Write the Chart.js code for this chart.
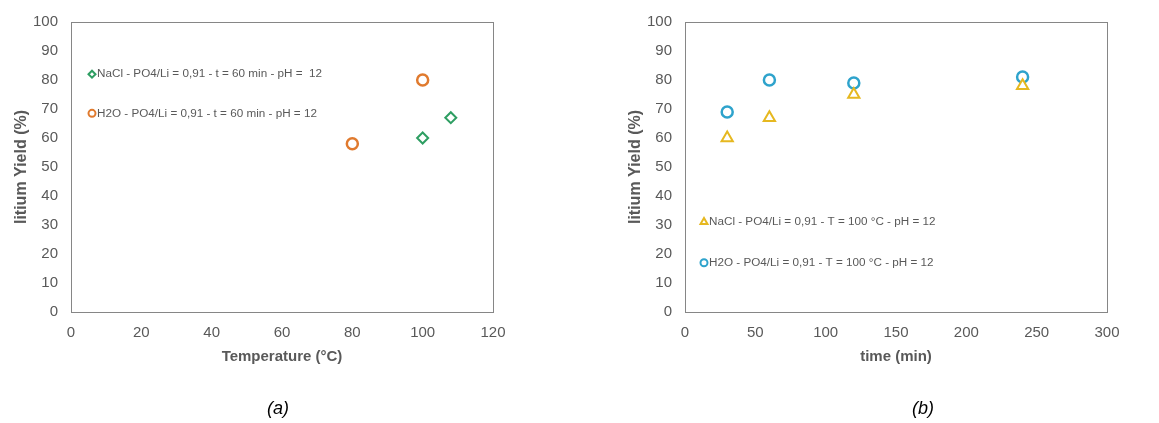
<!DOCTYPE html>
<html>
<head>
<meta charset="utf-8">
<script src="https://cdn.jsdelivr.net/npm/chart.js@4"></script>
<style>
  body { margin: 0; background: #fff; width: 1159px; height: 423px; position: relative; overflow: hidden; font-family: "Liberation Sans", Arial, sans-serif; }
  .box { position: absolute; top: 0; height: 423px; }
  #boxA { left: 0; width: 560px; }
  #boxB { left: 614px; width: 545px; }
  .cap { position: absolute; top: 398px; font-style: italic; font-size: 18px; color: #000; transform: translateX(-50%); }
</style>
</head>
<body>
<div class="box" id="boxA"><canvas id="chartA"></canvas></div>
<div class="box" id="boxB"><canvas id="chartB"></canvas></div>
<div class="cap" style="left:278px">(a)</div>
<div class="cap" style="left:923px">(b)</div>
<script>
// (a) temperature
const tempNaCl = [100, 108];
const yieldTempNaCl = [60, 67];
const tempH2O = [80, 100];
const yieldTempH2O = [58, 80];
const labelsA = ['NaCl - PO4/Li = 0,91 - t = 60 min - pH =  12', 'H2O - PO4/Li = 0,91 - t = 60 min - pH = 12'];

// (b) time
const timeNaCl = [30, 60, 120, 240];
const yieldTimeNaCl = [60, 67, 75, 78];
const timeH2O = [30, 60, 120, 240];
const yieldTimeH2O = [69, 80, 79, 81];
const labelsB = ['NaCl - PO4/Li = 0,91 - T = 100 °C - pH = 12', 'H2O - PO4/Li = 0,91 - T = 100 °C - pH = 12'];

const GREEN = '#2E9E62', ORANGE = '#E07A2E', GOLD = '#E6B820', BLUE = '#2EA3CC';
const TXT = '#595959';
const FONT = '"Liberation Sans", Arial, sans-serif';

function toPoints(xs, ys) {
    return xs.map((x, i) => ({ x: x, y: ys[i] }));
}

// frame round the plot area
const frame = {
    id: 'frame',
    afterDraw(chart) {
        const a = chart.chartArea, c = chart.ctx;
        c.save();
        c.strokeStyle = '#868686';
        c.lineWidth = 1;
        c.strokeRect(Math.round(a.left) + 0.5, Math.round(a.top) + 0.5, Math.round(a.right - a.left), Math.round(a.bottom - a.top));
        c.restore();
    }
};

// legend drawn inside the plot, at a y value of the axis
const innerLegend = {
    id: 'innerLegend',
    afterDatasetsDraw(chart, args, opts) {
        const c = chart.ctx, ys = chart.scales.y;
        c.save();
        chart.data.datasets.forEach((ds, i) => {
            const px = chart.chartArea.left + opts.offsetX;
            const py = ys.getPixelForValue(opts.yValues[i]);
            const style = { pointStyle: ds.pointStyle, radius: ds.pointStyle === 'triangle' ? 4 : 3.5, borderWidth: 2 };
            c.strokeStyle = ds.borderColor;
            c.lineWidth = 2;
            c.fillStyle = '#fff';
            Chart.helpers.drawPoint(c, style, px, py);
            c.fillStyle = TXT;
            c.font = '11.7px ' + FONT;
            c.textBaseline = 'middle';
            c.textAlign = 'left';
            c.fillText(ds.label, px + 5, py);
        });
        c.restore();
    }
};

function makeChart(id, datasets, xMax, xStep, xTitle, legendY) {
    return new Chart(document.getElementById(id), {
        type: 'scatter',
        data: { datasets: datasets },
        options: {
            responsive: true,
            maintainAspectRatio: false,
            animation: false,
            layout: { padding: { left: 8, right: id === 'chartA' ? 67 : 52, top: 20, bottom: 55 } },
            scales: {
                x: {
                    min: 0, max: xMax,
                    grid: { display: false, drawTicks: false },
                    border: { display: false },
                    ticks: { stepSize: xStep, padding: 12, color: TXT, font: { size: 15, family: FONT } },
                    title: { display: true, text: xTitle, color: TXT, font: { size: 15, weight: 'bold', family: FONT, lineHeight: 1 }, padding: { top: -5, bottom: 4 } }
                },
                y: {
                    min: 0, max: 100,
                    grid: { display: false, drawTicks: false },
                    border: { display: false },
                    ticks: { stepSize: 10, padding: 13, color: TXT, font: { size: 15, family: FONT } },
                    title: { display: true, text: 'litium Yield (%)', color: TXT, font: { size: 16, weight: 'bold', family: FONT }, padding: { top: 4, bottom: 4 } },
                    afterFit(scale) { scale.width = 63; }
                }
            },
            plugins: {
                legend: { display: false },
                tooltip: { enabled: false },
                innerLegend: { offsetX: id === 'chartA' ? 21 : 19, yValues: legendY }
            }
        },
        plugins: [frame, innerLegend]
    });
}

makeChart('chartA', [
    { label: labelsA[0], data: toPoints(tempNaCl, yieldTempNaCl), pointStyle: 'rectRot', pointRadius: 5.5, pointBorderWidth: 2, borderColor: GREEN, backgroundColor: '#fff' },
    { label: labelsA[1], data: toPoints(tempH2O, yieldTempH2O), pointStyle: 'circle', pointRadius: 5.5, pointBorderWidth: 2.5, borderColor: ORANGE, backgroundColor: '#fff' }
], 120, 20, 'Temperature (°C)', [82, 68.5]);

makeChart('chartB', [
    { label: labelsB[0], data: toPoints(timeNaCl, yieldTimeNaCl), pointStyle: 'triangle', pointRadius: 6.5, pointBorderWidth: 2, borderColor: GOLD, backgroundColor: '#fff' },
    { label: labelsB[1], data: toPoints(timeH2O, yieldTimeH2O), pointStyle: 'circle', pointRadius: 5.5, pointBorderWidth: 2.5, borderColor: BLUE, backgroundColor: '#fff' }
], 300, 50, 'time (min)', [31, 17]);
</script>
</body>
</html>
